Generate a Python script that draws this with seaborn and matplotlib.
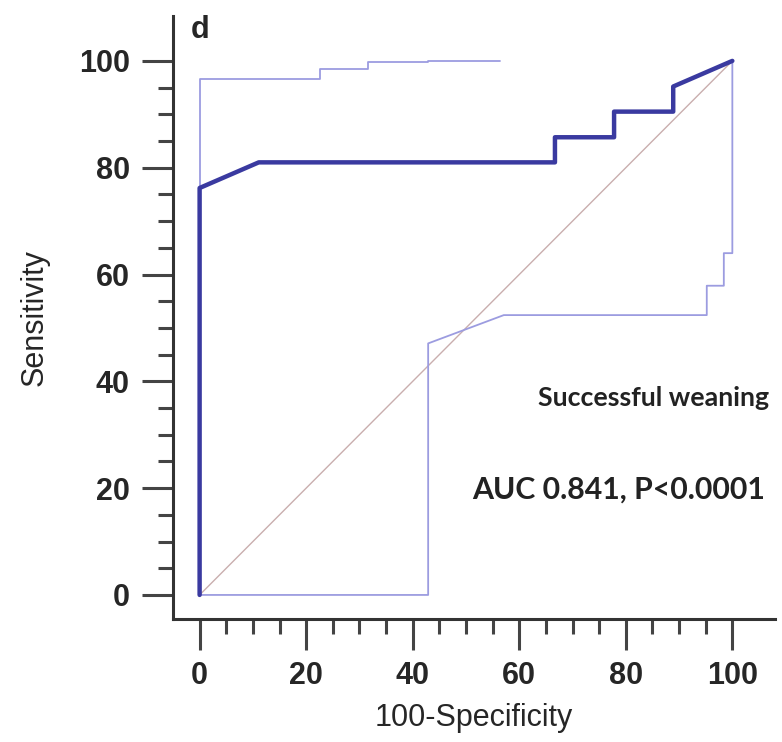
import numpy as np
import pandas as pd
import matplotlib
matplotlib.use("Agg")
import matplotlib.pyplot as plt
import seaborn as sns

# ROC curve (100-specificity, sensitivity)
roc_x = [0, 0, 11.1, 66.7, 66.7, 77.8, 77.8, 88.9, 88.9, 100]
roc_y = [0, 76.2, 81.0, 81.0, 85.7, 85.7, 90.5, 90.5, 95.2, 100]

# upper confidence bound
up_x = [0, 0, 22.6, 22.6, 31.6, 31.6, 42.9, 42.9, 56.4]
up_y = [0, 96.6, 96.6, 98.4, 98.4, 99.7, 99.7, 100, 100]

# lower confidence bound
lo_x = [0, 42.9, 42.9, 57.1, 95.2, 95.2, 98.4, 98.4, 100, 100]
lo_y = [0, 0, 47.1, 52.4, 52.4, 57.9, 57.9, 64.0, 64.0, 100]

diag = [0, 100]
major = [0, 20, 40, 60, 80, 100]

sns.set_style("ticks")
plt.rcParams['font.family'] = ['Liberation Sans', 'DejaVu Sans']

fig = plt.figure(figsize=(7.82, 7.42), dpi=100)
ax = fig.add_axes([0.2212, 0.1658, 0.7698, 0.8126])

sns.lineplot(x=diag, y=diag, ax=ax, color='#c9aeae', lw=1.0, sort=False, estimator=None)
sns.lineplot(x=up_x, y=up_y, ax=ax, color='#9c9ce0', lw=1.3, sort=False, estimator=None)
sns.lineplot(x=lo_x, y=lo_y, ax=ax, color='#9c9ce0', lw=1.3, sort=False, estimator=None)
sns.lineplot(x=roc_x, y=roc_y, ax=ax, color='#3a3aa0', lw=3.2, sort=False, estimator=None)

ax.set_xlim(-5, 108)
ax.set_ylim(-4.5, 108.4)
ax.set_xticks(major)
ax.set_yticks(major)
# minor ticks every 5, only between 0 and 100
ax.set_xticks([v for v in range(5, 100, 5) if v % 20], minor=True)
ax.set_yticks([v for v in range(5, 100, 5) if v % 20], minor=True)

sns.despine(ax=ax)
for s in ['left', 'bottom']:
    ax.spines[s].set_linewidth(2.2)
    ax.spines[s].set_color('#333333')
ax.tick_params(which='major', length=22, width=2.2, color='#444444', labelsize=22)
ax.tick_params(axis='x', which='major', pad=8)
ax.tick_params(axis='y', which='major', pad=9)
ax.tick_params(which='minor', length=11, width=2.2, color='#444444')
for lab in ax.get_xticklabels() + ax.get_yticklabels():
    lab.set_fontweight('bold')

ax.set_xlabel('100-Specificity', fontsize=22, labelpad=9)
ax.set_ylabel('Sensitivity', fontsize=22, labelpad=21)

ax.text(-1.6, 105.8, 'd', fontsize=22, fontweight='bold', va='center', ha='left')
ax.text(63.6, 36.9, 'Successful weaning', fontsize=19.3, fontweight='bold',
        family=['Lato', 'DejaVu Sans'], color='#222222', va='center', ha='left')
ax.text(51.1, 19.7, 'AUC 0.841, P<0.0001', fontsize=21.8, fontweight='bold',
        family=['Lato', 'DejaVu Sans'], color='#222222', va='center', ha='left')

fig.savefig('out.png', dpi=100)
